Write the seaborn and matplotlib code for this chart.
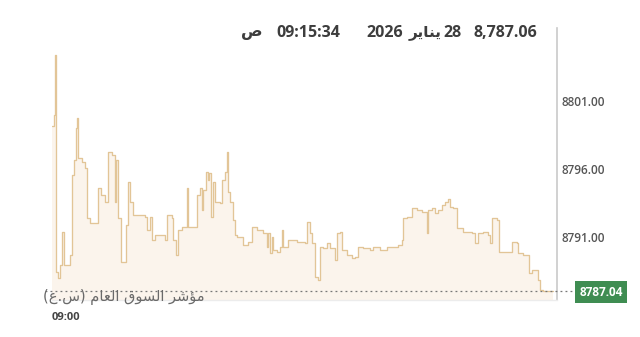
import numpy as np
import pandas as pd
import matplotlib
matplotlib.use("Agg")
import matplotlib.pyplot as plt
import seaborn as sns

# seconds after 09:00
seconds = [0, 3, 6, 7, 11, 15, 19, 22, 34, 37, 41, 45, 47, 48, 56, 62, 65, 71, 86, 91, 99,
           104, 112, 117, 119, 123, 128, 138, 142, 145, 151, 173, 177, 183, 186, 192, 207,
           211, 214, 224, 226, 231, 235, 242, 252, 254, 267, 270, 276, 280, 281, 287, 291,
           293, 296, 300, 304, 313, 317, 322, 326, 328, 332, 337, 341, 345, 356, 365, 373,
           382, 393, 401, 403, 406, 410, 412, 419, 425, 429, 431, 440, 457, 472, 475, 481,
           485, 490, 496, 500, 505, 513, 518, 528, 531, 537, 541, 550, 559, 565, 570, 580,
           593, 598, 611, 624, 636, 645, 652, 654, 662, 671, 680, 690, 699, 701, 708, 714,
           720, 727, 733, 738, 742, 747, 755, 766, 783, 788, 794, 803, 813, 816, 820, 829,
           833, 848, 857, 867, 869, 878, 889, 895, 900, 906, 910, 915, 934]
values = [8799.2, 8800.0, 8804.38, 8788.43, 8787.99, 8788.94, 8791.37, 8788.94, 8789.68,
          8795.56, 8796.66, 8799.01, 8799.75, 8796.81, 8796.51, 8796.07, 8792.40, 8792.03,
          8794.60, 8794.09, 8793.57, 8797.25, 8797.03, 8793.57, 8796.66, 8792.40, 8789.16,
          8791.88, 8795.04, 8793.57, 8792.62, 8792.47, 8791.51, 8792.47, 8790.78, 8791.15,
          8791.15, 8790.78, 8792.62, 8792.40, 8790.78, 8789.68, 8791.51, 8791.74, 8794.60,
          8791.74, 8791.74, 8794.09, 8794.60, 8792.99, 8794.46, 8795.78, 8795.19, 8795.71,
          8792.47, 8795.04, 8793.57, 8793.50, 8795.19, 8795.78, 8797.25, 8794.31, 8793.57,
          8792.25, 8791.15, 8791.00, 8790.41, 8790.63, 8791.74, 8791.51, 8791.29, 8790.26,
          8791.29, 8789.82, 8791.00, 8790.04, 8789.90, 8790.26, 8791.51, 8790.26, 8790.78,
          8790.63, 8790.56, 8792.10, 8791.29, 8790.56, 8788.06, 8787.84, 8790.26, 8790.19,
          8790.56, 8790.19, 8789.31, 8791.29, 8791.37, 8790.04, 8789.68, 8789.46, 8789.53,
          8790.26, 8790.19, 8790.04, 8790.26, 8790.04, 8790.26, 8790.26, 8790.41, 8790.78,
          8792.40, 8792.47, 8793.13, 8792.99, 8792.84, 8791.29, 8792.99, 8793.13, 8792.76,
          8792.99, 8793.35, 8793.57, 8793.79, 8793.21, 8793.13, 8791.66, 8791.37, 8791.29,
          8790.56, 8791.29, 8791.37, 8791.15, 8790.56, 8792.40, 8792.25, 8789.90, 8789.90,
          8790.63, 8790.56, 8789.82, 8789.68, 8788.35, 8788.57, 8788.57, 8787.84, 8787.10,
          8787.04, 8787.04]

y_ticks = [8791.00, 8796.00, 8801.00]
x_tick_label = "09:00"
last_value = 8787.04
header_value = "8,787.06"
header_day = "28"
header_month = "\uFEAE\uFEF3\uFE8E\uFEE8\uFEF3"      # يناير (visual order)
header_year = "2026"
header_time = "09:15:34"
header_ampm = "\uFEB9"                                  # ص
series_label = "(\uFEC9.\uFEB1) \uFEE1\uFE8E\uFECC\uFEDF\uFE8D \uFED5\uFEEE\uFEB4\uFEDF\uFE8D \uFEAE\uFEB7\uFE86\uFEE3"

df = pd.DataFrame({"t": seconds, "v": values})

sns.set_theme(style="white")
plt.rcParams["font.family"] = ["Open Sans", "DejaVu Sans"]

W, H = 640, 337
fig = plt.figure(figsize=(W / 100, H / 100), dpi=100)
ax = fig.add_axes([52 / W, 1 - 300 / H, (557 - 52) / W, (300 - 28) / H])

ymin, ymax = 8786.37, 8806.37
line_color = "#e2c597"
sns.lineplot(data=df, x="t", y="v", drawstyle="steps-post", color=line_color,
             lw=0.95, ax=ax)
ax.fill_between(df["t"], df["v"], ymin, step="post", color="#fbf4ec", lw=0)

ax.set_xlim(0, 941)
ax.set_ylim(ymin, ymax)
ax.set_xlabel("")
ax.set_ylabel("")

for s in ["top", "left"]:
    ax.spines[s].set_visible(False)
ax.spines["right"].set_color("#c9c9c9")
ax.spines["right"].set_linewidth(1.2)
ax.spines["bottom"].set_color("#ececec")
ax.spines["bottom"].set_linewidth(1.0)

ax.yaxis.tick_right()
ax.set_yticks(y_ticks)
ax.set_yticklabels([f"{v:.2f}" for v in y_ticks])
ax.tick_params(axis="y", length=0, pad=3, labelsize=8.5, labelcolor="#555555")
for lab in ax.get_yticklabels():
    lab.set_fontweight("semibold")

ax.set_xticks([0])
ax.set_xticklabels([x_tick_label])
ax.tick_params(axis="x", length=0, pad=9, labelsize=8, labelcolor="#444444")
for lab in ax.get_xticklabels():
    lab.set_fontweight("bold")
    lab.set_horizontalalignment("left")

# last value dotted line
ax.axhline(last_value, xmin=-7 / 505, xmax=(575 - 52) / 505, color="#777777",
           lw=0.9, ls=(0, (1.5, 2.5)), clip_on=False, zorder=3)

# green value box
fig.text(601 / W, 1 - 292 / H, f"{last_value:.2f}", ha="center", va="center",
         color="white", fontsize=8.5, fontweight="bold",
         bbox=dict(boxstyle="square,pad=0.35", fc="#3f8d52", ec="none"))

# series label
fig.text(205 / W, 1 - 297 / H, series_label, ha="right", va="center",
         color="#6a6a6a", fontsize=10.5, family=["DejaVu Sans"])

# header pieces
hy = 1 - 33 / H
hc = "#3d3d3d"
fs = 11.5
fig.text(537 / W, hy, header_value, ha="right", va="center", color=hc,
         fontsize=fs, fontweight="bold")
fig.text(462 / W, hy, header_day, ha="right", va="center", color=hc,
         fontsize=fs, fontweight="bold")
fig.text(442 / W, hy, header_month, ha="right", va="center", color=hc,
         fontsize=fs - 0.5, fontweight="bold", family=["DejaVu Sans"])
fig.text(403 / W, hy, header_year, ha="right", va="center", color=hc,
         fontsize=fs, fontweight="bold")
fig.text(340 / W, hy, header_time, ha="right", va="center", color=hc,
         fontsize=fs, fontweight="bold")
fig.text(263 / W, hy, header_ampm, ha="right", va="center", color=hc,
         fontsize=fs, fontweight="bold", family=["DejaVu Sans"])

fig.savefig("out.png", dpi=100, facecolor="white")
